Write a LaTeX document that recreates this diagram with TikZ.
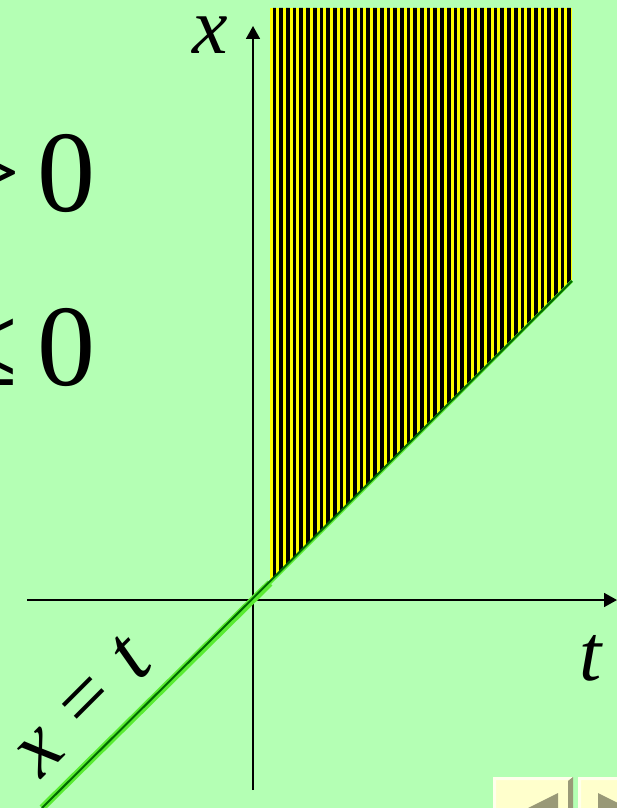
\documentclass[tikz,border=0pt]{standalone}
\usepackage{fontspec}
\setmainfont{Liberation Serif}
\usetikzlibrary{arrows.meta}
\definecolor{bg}{RGB}{180,255,180}
\definecolor{lgreen}{RGB}{90,235,50}
\definecolor{dgreen}{RGB}{0,105,0}
\definecolor{stripeyel}{RGB}{255,255,0}
\definecolor{btnfill}{RGB}{255,255,204}
\definecolor{btnlight}{RGB}{255,255,235}
\definecolor{btngray}{RGB}{153,153,119}
\begin{document}
\begin{tikzpicture}[x=1pt,y=-1pt,
  axis/.style={line width=1.8pt,-{Triangle[length=13pt,width=14pt]}},
  bigtxt/.style={font=\fontsize{116}{116}\selectfont,inner sep=0pt},
  lbl/.style={font=\fontsize{80}{80}\selectfont\itshape,inner sep=0pt},
  eqlbl/.style={font=\fontsize{84}{84}\selectfont\itshape,inner sep=0pt,rotate=45},
  btn/.style={fill=btnfill},
  btnmark/.style={fill=btngray}]
\useasboundingbox (0,0) rectangle (617,808);
\clip (0,0) rectangle (617,808);
\fill[bg] (0,0) rectangle (617,808);

% striped region
\begin{scope}
  \clip (270,8) -- (572,8) -- (572,281) -- (270,583) -- cycle;
  \fill[stripeyel] (270,8) rectangle (572,583);
  \foreach \i in {0,...,45}
    \fill[black] ({272.6+6.7*\i},0) rectangle ({276.3+6.7*\i},600);
\end{scope}

% axes
\coordinate (hs) at (27,600);
\coordinate (he) at (617,600);
\coordinate (vs) at (253,790);
\coordinate (ve) at (253,26);
\draw[axis] (hs) -- (he);
\draw[axis] (vs) -- (ve);

% line x = t
\coordinate (lb) at (42,808);
\coordinate (lm) at (270,583);
\coordinate (lt) at (572,281);
\draw[lgreen,line width=7pt] (lb) -- (lm);
\draw[lgreen,line width=3pt] (lm) -- (lt);
\draw[dgreen,line width=2pt] (lb) -- (lt);

% labels
\node[lbl,anchor=base] (xl) at (210,54) {x};
\node[lbl,anchor=base] (tl) at (591,680) {t};
\node[eqlbl] (eq) at (82,706) {x\hspace{26pt}{\upshape =}\hspace{26pt}t};
\node[bigtxt,anchor=base east] (gt) at (96,211.5) {>\hspace{17pt}0};
\node[bigtxt,anchor=base east] (le) at (96,385.5) {≤\hspace{20pt}0};

% navigation buttons
\fill[btn] (493,777) rectangle (573,820);
\fill[btnlight] (493,777) -- (573,777) -- (568,780) -- (496,780) -- (496,820) -- (493,820) -- cycle;
\fill[btngray] (568,781) -- (573,777) -- (573,820) -- (568,820) -- cycle;
\fill[btnmark] (558,793) -- (510,817) -- (558,841) -- cycle;
\fill[btn] (578,777) rectangle (630,820);
\fill[btnlight] (578,777) -- (630,777) -- (630,780) -- (581,780) -- (581,820) -- (578,820) -- cycle;
\fill[btnmark] (598,793) -- (640,814) -- (598,835) -- cycle;
\end{tikzpicture}
\end{document}
